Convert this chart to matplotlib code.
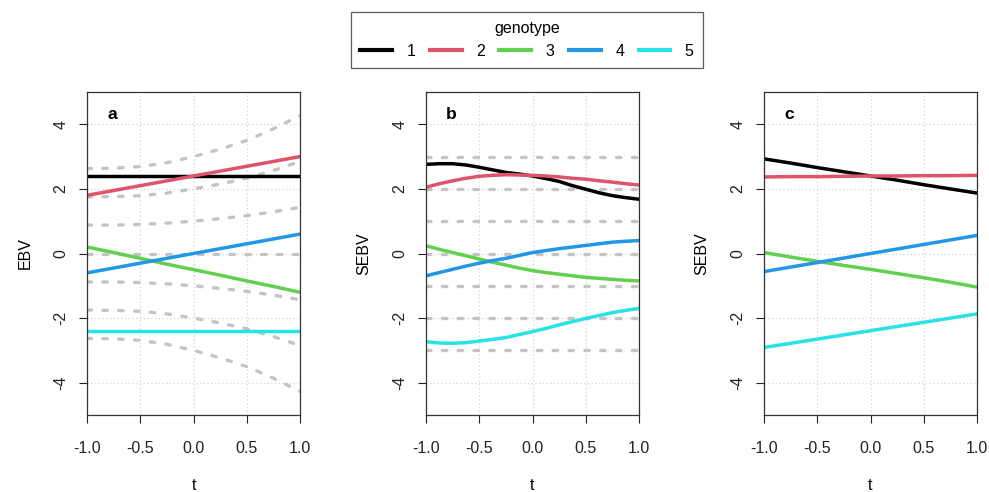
import matplotlib
matplotlib.use("Agg")
import matplotlib.pyplot as plt
from matplotlib.lines import Line2D

plt.rcParams['font.family'] = ['Liberation Sans', 'DejaVu Sans']

# ---------------- data ----------------
t = [-1.0, -0.75, -0.5, -0.25, 0.0, 0.25, 0.5, 0.75, 1.0]
t_fine = [-1.0, -0.875, -0.75, -0.625, -0.5, -0.375, -0.25, -0.125, 0.0,
          0.125, 0.25, 0.375, 0.5, 0.625, 0.75, 0.875, 1.0]
genotypes = ["1", "2", "3", "4", "5"]
colors = ["#000000", "#DF536B", "#61D04F", "#2297E6", "#28E2E5"]

# panel a: EBV
a_series = {
    "1": [2.4, 2.4, 2.4, 2.4, 2.4, 2.4, 2.4, 2.4, 2.4],
    "2": [1.8, 1.95, 2.1, 2.25, 2.4, 2.55, 2.7, 2.85, 3.0],
    "3": [0.2, 0.03, -0.15, -0.33, -0.5, -0.67, -0.85, -1.02, -1.2],
    "4": [-0.6, -0.45, -0.3, -0.15, 0.0, 0.15, 0.3, 0.45, 0.6],
    "5": [-2.4, -2.4, -2.4, -2.4, -2.4, -2.4, -2.4, -2.4, -2.4],
}
a_ref = [
    [2.63, 2.64, 2.69, 2.81, 3.0, 3.23, 3.5, 3.86, 4.27],
    [1.75, 1.76, 1.79, 1.87, 2.0, 2.15, 2.33, 2.57, 2.85],
    [0.88, 0.88, 0.90, 0.94, 1.0, 1.08, 1.17, 1.29, 1.43],
    [0.0, 0.0, 0.0, 0.0, 0.0, 0.0, 0.0, 0.0, 0.0],
    [-0.88, -0.88, -0.90, -0.94, -1.0, -1.08, -1.17, -1.29, -1.43],
    [-1.75, -1.76, -1.79, -1.87, -2.0, -2.15, -2.33, -2.57, -2.85],
    [-2.63, -2.64, -2.69, -2.81, -3.0, -3.23, -3.5, -3.86, -4.27],
]

# panel b: SEBV (read on the finer t grid)
b_series = {
    "1": [2.76, 2.78, 2.78, 2.74, 2.67, 2.59, 2.51, 2.46, 2.40,
          2.32, 2.23, 2.10, 1.99, 1.88, 1.79, 1.73, 1.68],
    "2": [2.05, 2.16, 2.25, 2.33, 2.39, 2.42, 2.44, 2.43, 2.42,
          2.40, 2.37, 2.33, 2.30, 2.25, 2.21, 2.16, 2.12],
    "3": [0.24, 0.13, 0.03, -0.07, -0.17, -0.27, -0.36, -0.45, -0.53,
          -0.59, -0.64, -0.69, -0.74, -0.77, -0.80, -0.83, -0.85],
    "4": [-0.69, -0.59, -0.49, -0.39, -0.30, -0.22, -0.15, -0.06, 0.03,
          0.09, 0.15, 0.20, 0.25, 0.30, 0.35, 0.38, 0.40],
    "5": [-2.73, -2.77, -2.78, -2.76, -2.71, -2.66, -2.60, -2.51, -2.42,
          -2.32, -2.21, -2.11, -2.01, -1.92, -1.83, -1.76, -1.70],
}
b_ref = [3, 2, 1, 0, -1, -2, -3]

# panel c: SEBV
c_series = {
    "1": [2.93, 2.80, 2.66, 2.53, 2.40, 2.27, 2.13, 2.00, 1.87],
    "2": [2.37, 2.38, 2.38, 2.39, 2.40, 2.40, 2.41, 2.41, 2.42],
    "3": [0.03, -0.11, -0.24, -0.37, -0.49, -0.62, -0.75, -0.89, -1.04],
    "4": [-0.56, -0.42, -0.28, -0.14, 0.0, 0.14, 0.28, 0.42, 0.56],
    "5": [-2.91, -2.78, -2.65, -2.52, -2.39, -2.26, -2.13, -2.00, -1.87],
}

panel_labels = ["a", "b", "c"]
ylabels = ["EBV", "SEBV", "SEBV"]
xticks = [-1.0, -0.5, 0.0, 0.5, 1.0]
xticklabels = ["-1.0", "-0.5", "0.0", "0.5", "1.0"]
yticks = [-4, -2, 0, 2, 4]
yticklabels = ["-4", "-2", "0", "2", "4"]

# ---------------- figure ----------------
W, H = 989, 492
fig = plt.figure(figsize=(W / 100, H / 100), dpi=100)

lefts_px = [87, 426, 764]
width_px = 213
top_px, bottom_px = 92, 415
gray = "#C4C4C4"
dash = (1.35, 3.4)
ref_lw = 2.4

axes = []
for i, lp in enumerate(lefts_px):
    ax = fig.add_axes([lp / W, (H - bottom_px) / H, width_px / W, (bottom_px - top_px) / H])
    axes.append(ax)
    ax.set_xlim(-1, 1)
    ax.set_ylim(-5, 5)
    for x in xticks:
        ax.axvline(x, color="#D3D3D3", lw=0.9, ls=(0, (1, 2)), zorder=0)
    for y in yticks:
        ax.axhline(y, color="#D3D3D3", lw=0.9, ls=(0, (1, 2)), zorder=0)
    ax.set_xticks(xticks)
    ax.set_xticklabels(xticklabels)
    ax.set_yticks(yticks)
    ax.set_yticklabels(yticklabels, rotation=90, va="center")
    ax.tick_params(axis="both", direction="out", length=5.5, width=0.8, labelsize=11.5,
                   colors="#222222")
    ax.tick_params(axis="x", pad=13)
    ax.tick_params(axis="y", pad=8)
    for s in ax.spines.values():
        s.set_linewidth(0.9)
        s.set_color("#333333")
    ax.text(0.12, 0.93, panel_labels[i], transform=ax.transAxes, fontsize=12.5,
            fontweight="bold", ha="center", va="center")
    cx = (lp + width_px / 2) / W
    fig.text(cx, (H - 485) / H, "t", ha="center", va="center", fontsize=11.5)
    fig.text((lp - 62) / W, (H - (top_px + bottom_px) / 2) / H, ylabels[i],
             rotation=90, ha="center", va="center", fontsize=11.5)

# panel a
ax = axes[0]
for ref in a_ref:
    ax.plot(t, ref, color=gray, lw=ref_lw, ls=(0, dash), dash_capstyle="round", zorder=1)
for g, c in zip(genotypes, colors):
    ax.plot(t, a_series[g], color=c, lw=2.5, zorder=2)

# panel b
ax = axes[1]
for r in b_ref:
    ax.plot([t[0], t[-1]], [r, r], color=gray, lw=ref_lw, ls=(0, dash),
            dash_capstyle="round", zorder=1)
for g, c in zip(genotypes, colors):
    ax.plot(t_fine, b_series[g], color=c, lw=2.5, zorder=2)

# panel c
ax = axes[2]
for g, c in zip(genotypes, colors):
    ax.plot(t, c_series[g], color=c, lw=2.5, zorder=2)

# legend
handles = [Line2D([0], [0], color=c, lw=3) for c in colors]
leg = fig.legend(handles, genotypes, title="genotype", ncol=5, loc="center",
                 bbox_to_anchor=(527 / W, (H - 40) / H), frameon=True, fancybox=False,
                 fontsize=11.5, title_fontsize=11.5, handlelength=2.0, columnspacing=0.9,
                 handletextpad=0.9, borderpad=0.55, edgecolor="#333333")
leg.get_frame().set_linewidth(0.9)

fig.savefig("out.png", dpi=100)
